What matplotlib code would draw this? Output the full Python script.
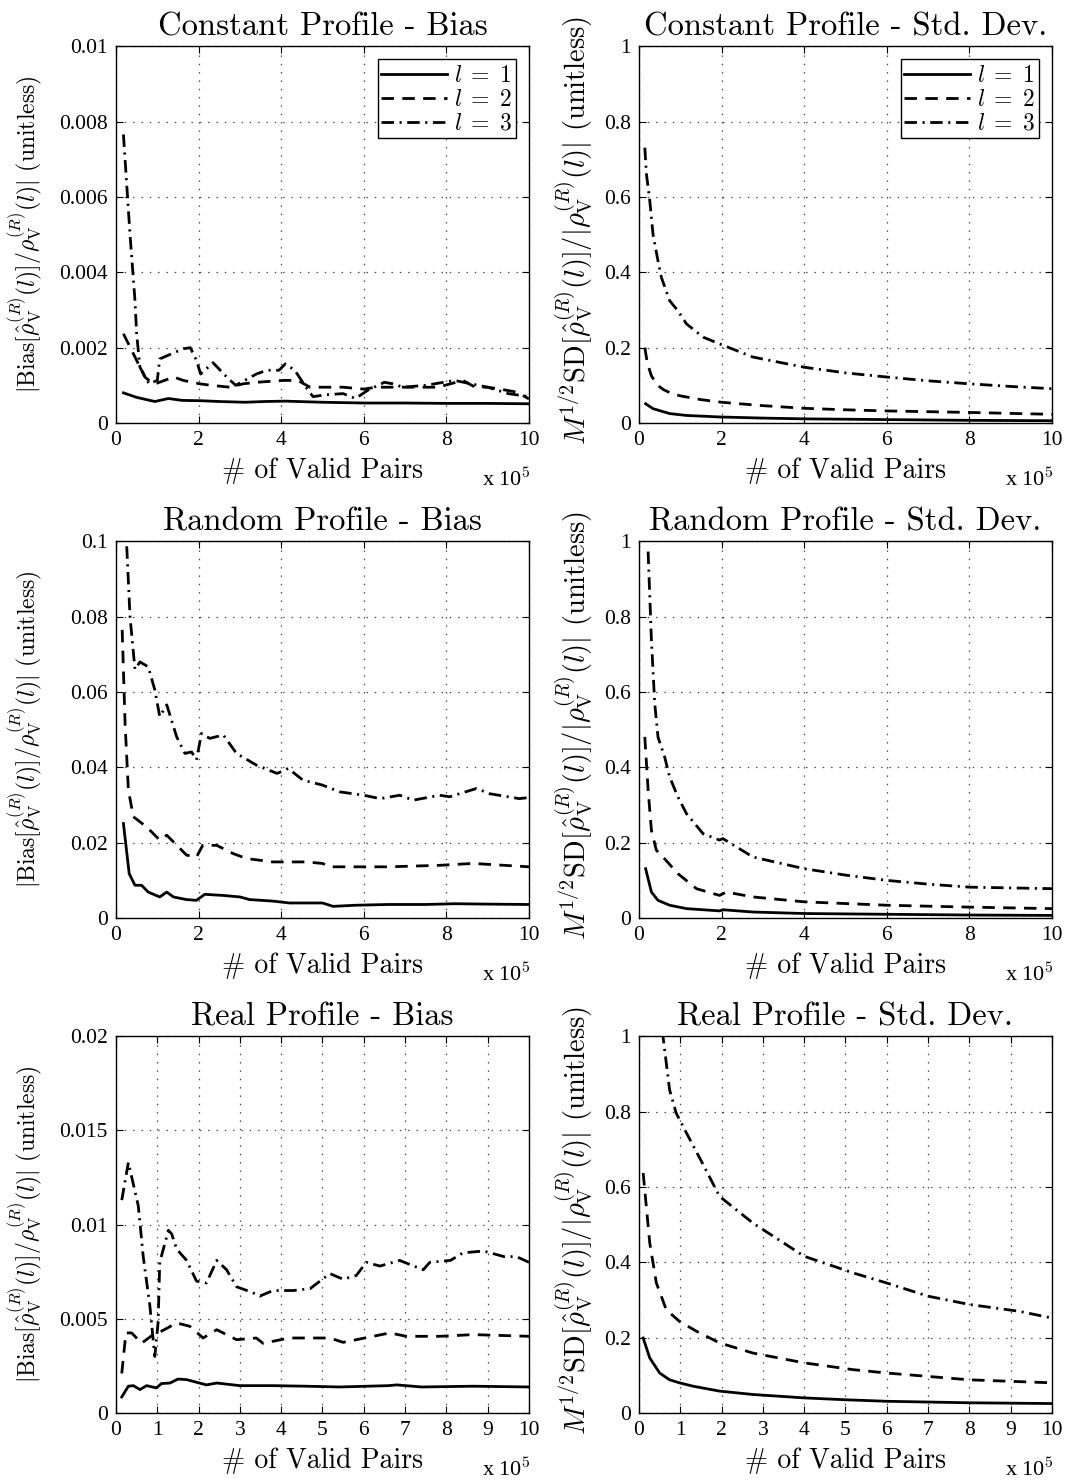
import matplotlib
matplotlib.use('Agg')
import matplotlib.pyplot as plt
from matplotlib.ticker import FixedLocator, FixedFormatter

plt.rcParams['mathtext.fontset'] = 'cm'
plt.rcParams['axes.unicode_minus'] = False
plt.rcParams['lines.scale_dashes'] = False

# ---- data (x in units of 1e5 valid pairs) ----
const_bias_l1 = [(0.18, 0.00080), (0.5, 0.00068), (0.94, 0.00057), (1.27, 0.00065), (1.6, 0.00060),
                 (2.08, 0.00059), (2.5, 0.00057), (3.13, 0.00055), (3.6, 0.00057), (4.1, 0.00058),
                 (5.0, 0.00055), (6.04, 0.00053), (7.0, 0.00053), (8.0, 0.00052), (9.0, 0.00052),
                 (10.0, 0.00051)]
const_bias_l2 = [(0.18, 0.00237), (0.42, 0.00184), (0.7, 0.00122), (0.9, 0.00104), (1.0, 0.00106),
                 (1.4, 0.00122), (1.63, 0.00113), (2.03, 0.00104), (2.3, 0.00100), (2.76, 0.00095),
                 (3.08, 0.00104), (3.4, 0.00108), (4.05, 0.00113), (4.4, 0.00113), (4.7, 0.00095),
                 (5.0, 0.00095), (5.5, 0.00095), (6.0, 0.00090), (6.3, 0.00095), (6.8, 0.00095),
                 (7.3, 0.00095), (7.8, 0.00095), (8.4, 0.00113), (8.7, 0.00095), (9.0, 0.00095),
                 (9.3, 0.00090), (9.7, 0.00082), (10.0, 0.00064)]
const_bias_l3 = [(0.18, 0.00766), (0.34, 0.0050), (0.46, 0.00325), (0.5, 0.00237), (0.58, 0.00148),
                 (0.8, 0.00104), (1.0, 0.00113), (1.06, 0.0017), (1.35, 0.00184), (1.63, 0.00197),
                 (1.8, 0.0020), (1.95, 0.00166), (2.05, 0.0013), (2.35, 0.0016), (2.7, 0.0012),
                 (2.9, 0.0010), (3.4, 0.0013), (3.65, 0.0014), (3.95, 0.0014), (4.1, 0.00157),
                 (4.33, 0.0014), (4.6, 0.00095), (4.77, 0.0007), (5.1, 0.00075), (5.5, 0.00078),
                 (5.8, 0.00065), (6.1, 0.00087), (6.5, 0.00108), (6.7, 0.00104), (6.95, 0.00095),
                 (7.5, 0.0010), (8.2, 0.00113), (9.0, 0.00095), (9.5, 0.00078), (10.0, 0.0007)]

const_sd_l1 = [(0.16, 0.051), (0.34, 0.038), (0.74, 0.025), (1.15, 0.020), (1.95, 0.016), (3.0, 0.013),
               (4.0, 0.011), (6.0, 0.009), (8.0, 0.007), (10.0, 0.006)]
const_sd_l2 = [(0.14, 0.20), (0.2, 0.16), (0.3, 0.125), (0.45, 0.10), (0.6, 0.088), (0.8, 0.078),
               (1.0, 0.072), (1.5, 0.062), (2.0, 0.055), (3.0, 0.046), (4.0, 0.039), (5.0, 0.035),
               (6.0, 0.032), (8.0, 0.028), (10.0, 0.023)]
const_sd_l3 = [(0.14, 0.731), (0.18, 0.66), (0.26, 0.59), (0.34, 0.50), (0.46, 0.43), (0.54, 0.387),
               (0.74, 0.325), (0.94, 0.298), (1.15, 0.263), (1.55, 0.228), (1.95, 0.21), (2.76, 0.175),
               (4.0, 0.148), (5.0, 0.133), (6.0, 0.122), (7.0, 0.112), (8.0, 0.104), (9.0, 0.097),
               (10.0, 0.091)]

rand_bias_l1 = [(0.18, 0.0251), (0.32, 0.0118), (0.46, 0.0087), (0.62, 0.0087), (0.78, 0.0069),
                (1.06, 0.0056), (1.23, 0.0069), (1.39, 0.0056), (1.71, 0.0049), (1.95, 0.0047),
                (2.15, 0.0063), (2.6, 0.0060), (3.0, 0.0056), (3.24, 0.0049), (3.8, 0.0045),
                (4.2, 0.0040), (5.0, 0.0040), (5.26, 0.0031), (5.8, 0.0034), (6.6, 0.0036),
                (7.5, 0.0036), (8.2, 0.0038), (9.0, 0.0037), (10.0, 0.0036)]
rand_bias_l2 = [(0.15, 0.0765), (0.22, 0.0517), (0.30, 0.034), (0.42, 0.0269), (0.74, 0.0242),
                (1.06, 0.0207), (1.23, 0.022), (1.71, 0.0167), (1.95, 0.0162), (2.1, 0.0193),
                (2.44, 0.0193), (2.84, 0.0171), (3.16, 0.0158), (3.8, 0.0149), (4.6, 0.0149),
                (5.0, 0.0145), (5.18, 0.0136), (5.8, 0.0136), (6.6, 0.0136), (7.84, 0.014),
                (8.65, 0.0145), (10.0, 0.0136)]
rand_bias_l3 = [(0.26, 0.0987), (0.34, 0.080), (0.46, 0.066), (0.58, 0.068), (0.78, 0.0667),
                (0.94, 0.0606), (1.06, 0.0535), (1.23, 0.0566), (1.47, 0.0481), (1.67, 0.0437),
                (1.83, 0.0441), (1.95, 0.042), (2.07, 0.049), (2.27, 0.0477), (2.6, 0.0486),
                (2.92, 0.0437), (3.4, 0.0406), (3.9, 0.0384), (4.17, 0.0397), (4.53, 0.0366),
                (5.0, 0.0353), (5.42, 0.0335), (6.0, 0.0326), (6.4, 0.0317), (6.87, 0.0326),
                (7.2, 0.0313), (7.84, 0.0326), (8.08, 0.0322), (8.73, 0.0344), (9.05, 0.033),
                (9.77, 0.0317), (10.0, 0.032)]

rand_sd_l1 = [(0.16, 0.131), (0.30, 0.069), (0.46, 0.047), (0.74, 0.034), (1.15, 0.025), (1.95, 0.019),
              (2.03, 0.022), (2.76, 0.016), (4.0, 0.012), (6.0, 0.010), (8.0, 0.008), (10.0, 0.007)]
rand_sd_l2 = [(0.14, 0.481), (0.22, 0.34), (0.30, 0.233), (0.42, 0.18), (0.58, 0.162), (0.94, 0.118),
              (1.39, 0.078), (1.95, 0.060), (2.11, 0.069), (2.76, 0.056), (4.0, 0.043), (6.0, 0.034),
              (8.0, 0.029), (10.0, 0.025)]
rand_sd_l3 = [(0.22, 0.973), (0.30, 0.738), (0.38, 0.57), (0.46, 0.48), (0.62, 0.428), (0.74, 0.375),
              (0.94, 0.322), (1.15, 0.277), (1.55, 0.224), (1.95, 0.207), (2.03, 0.211), (2.76, 0.162),
              (4.0, 0.131), (5.0, 0.114), (6.0, 0.100), (7.0, 0.090), (8.0, 0.082), (9.0, 0.080),
              (10.0, 0.078)]

real_bias_l1 = [(0.14, 0.00085), (0.30, 0.00142), (0.42, 0.00145), (0.58, 0.00124), (0.74, 0.00145),
                (0.98, 0.00133), (1.10, 0.00156), (1.31, 0.00159), (1.50, 0.00180), (1.71, 0.00177),
                (1.95, 0.00163), (2.19, 0.00149), (2.44, 0.00159), (3.0, 0.00145), (3.8, 0.00145),
                (4.6, 0.00142), (5.42, 0.00138), (6.6, 0.00145), (6.8, 0.00149), (7.4, 0.00138),
                (8.65, 0.00142), (10.0, 0.00138)]
real_bias_l2 = [(0.14, 0.0021), (0.24, 0.00425), (0.38, 0.00425), (0.62, 0.0037), (0.9, 0.00416),
                (1.1, 0.00434), (1.47, 0.00478), (1.79, 0.0046), (2.11, 0.00398), (2.44, 0.00442),
                (2.92, 0.00389), (3.4, 0.00398), (3.56, 0.0037), (4.2, 0.00398), (4.7, 0.00398),
                (5.18, 0.00398), (5.5, 0.00375), (6.23, 0.00407), (6.63, 0.00425), (7.03, 0.00407),
                (7.84, 0.00407), (8.65, 0.00416), (10.0, 0.00407)]
real_bias_l3 = [(0.14, 0.0113), (0.30, 0.0133), (0.54, 0.0110), (0.66, 0.0083), (0.82, 0.0057),
                (0.94, 0.0030), (1.02, 0.0048), (1.06, 0.0080), (1.27, 0.0097), (1.35, 0.0095),
                (1.47, 0.0087), (1.71, 0.0081), (1.95, 0.0070), (2.19, 0.0069), (2.44, 0.0081),
                (2.68, 0.0076), (2.92, 0.0067), (3.3, 0.0064), (3.48, 0.0062), (3.8, 0.0065),
                (4.29, 0.0065), (4.7, 0.0066), (5.18, 0.0074), (5.5, 0.0071), (5.82, 0.0073),
                (6.06, 0.0080), (6.39, 0.0078), (6.87, 0.0081), (7.44, 0.0076), (7.6, 0.0080),
                (8.1, 0.0081), (8.4, 0.0085), (8.9, 0.0086), (9.4, 0.0083), (9.7, 0.0083),
                (10.0, 0.0080)]

real_sd_l1 = [(0.10, 0.199), (0.26, 0.146), (0.50, 0.106), (0.74, 0.088), (0.98, 0.080), (1.31, 0.071),
              (1.95, 0.058), (2.76, 0.049), (4.0, 0.040), (5.0, 0.035), (6.0, 0.031), (8.0, 0.027),
              (10.0, 0.025)]
real_sd_l2 = [(0.10, 0.637), (0.26, 0.451), (0.42, 0.345), (0.66, 0.274), (0.98, 0.243), (1.39, 0.217),
              (1.95, 0.186), (2.76, 0.159), (4.0, 0.133), (5.18, 0.115), (6.0, 0.106), (8.0, 0.088),
              (10.0, 0.080)]
real_sd_l3 = [(0.45, 1.15), (0.58, 1.0), (0.74, 0.858), (0.90, 0.796), (1.15, 0.743), (1.55, 0.66),
              (1.95, 0.575), (2.76, 0.504), (4.0, 0.416), (5.18, 0.372), (6.0, 0.345), (7.0, 0.31),
              (8.0, 0.288), (9.2, 0.27), (10.0, 0.252)]

titles = ['Constant Profile - Bias', 'Constant Profile - Std. Dev.',
          'Random Profile - Bias', 'Random Profile - Std. Dev.',
          'Real Profile - Bias', 'Real Profile - Std. Dev.']
bias_yticks = [[0, 0.002, 0.004, 0.006, 0.008, 0.01],
               [0, 0.02, 0.04, 0.06, 0.08, 0.1],
               [0, 0.005, 0.01, 0.015, 0.02]]
sd_yticks = [0, 0.2, 0.4, 0.6, 0.8, 1]
xticks_coarse = [0, 2, 4, 6, 8, 10]
xticks_fine = [0, 1, 2, 3, 4, 5, 6, 7, 8, 9, 10]
legend_labels = [r'$l\;=\;1$', r'$l\;=\;2$', r'$l\;=\;3$']

bias_ylabel = (r'$|\mathrm{Bias}[\hat{\rho}_{\mathrm{V}}^{(R)}(l)]/\rho_{\mathrm{V}}^{(R)}(l)|$'
               ' (unitless)')
sd_ylabel = (r'$M^{1/2}\mathrm{SD}[\hat{\rho}_{\mathrm{V}}^{(R)}(l)]/|\rho_{\mathrm{V}}^{(R)}(l)|$'
             ' (unitless)')

panels = [
    [const_bias_l1, const_bias_l2, const_bias_l3],
    [const_sd_l1, const_sd_l2, const_sd_l3],
    [rand_bias_l1, rand_bias_l2, rand_bias_l3],
    [rand_sd_l1, rand_sd_l2, rand_sd_l3],
    [real_bias_l1, real_bias_l2, real_bias_l3],
    [real_sd_l1, real_sd_l2, real_sd_l3],
]

styles = [dict(linestyle='-'), dict(dashes=(9, 6)), dict(dashes=(9, 4, 1.5, 4))]

TICK_FONT = 'Liberation Serif'
CM_FONT = 'cmr10'

fig = plt.figure(figsize=(10.67, 14.8), dpi=100)
lefts = [0.1087, 0.5989]
bottoms = [0.7142, 0.3797, 0.0453]
w, h = 0.387, 0.2545

for i, curves in enumerate(panels):
    row, col = divmod(i, 2)
    ax = fig.add_axes([lefts[col], bottoms[row], w, h])
    for pts, st, lab in zip(curves, styles, legend_labels):
        xs = [p[0] for p in pts]
        ys = [p[1] for p in pts]
        ax.plot(xs, ys, color='black', lw=2.0, label=lab, **st)

    if col == 0:
        yt = bias_yticks[row]
    else:
        yt = sd_yticks
    xt = xticks_fine if row == 2 else xticks_coarse

    ax.set_xlim(0, 10)
    ax.set_ylim(yt[0], yt[-1])
    ax.xaxis.set_major_locator(FixedLocator(xt))
    ax.xaxis.set_major_formatter(FixedFormatter(['%g' % v for v in xt]))
    ax.yaxis.set_major_locator(FixedLocator(yt))
    ax.yaxis.set_major_formatter(FixedFormatter(['%g' % v for v in yt]))
    ax.tick_params(direction='in', length=5, width=0.8, top=True, right=True, pad=6)
    for lbl in ax.get_xticklabels() + ax.get_yticklabels():
        lbl.set_fontfamily(TICK_FONT)
        lbl.set_fontsize(15.5)
    ax.grid(True, color='0.25', linestyle=(0, (1, 5)), linewidth=0.9)
    for sp in ax.spines.values():
        sp.set_linewidth(1.0)

    ax.set_title(titles[i], family=CM_FONT, fontsize=23.5, pad=8)
    ax.set_xlabel('# of Valid Pairs', family=CM_FONT, fontsize=20, labelpad=5)
    if col == 0:
        ax.set_ylabel(bias_ylabel, family=CM_FONT, fontsize=17)
        ax.yaxis.set_label_coords(-0.172, 0.5)
    else:
        ax.set_ylabel(sd_ylabel, family=CM_FONT, fontsize=20.5)
        ax.yaxis.set_label_coords(-0.107, 0.51)
    ax.text(0.945, -0.148, r'x 10$^5$', transform=ax.transAxes, ha='center', va='center',
            family=TICK_FONT, fontsize=16)

    if row == 0:
        leg = ax.legend(loc='upper right', prop={'size': 17}, handlelength=2.8,
                        handletextpad=0.3, borderaxespad=0.55, labelspacing=0.0,
                        borderpad=0.15, fancybox=False, framealpha=1, edgecolor='black')
        leg.get_frame().set_linewidth(1.0)

fig.savefig('out.png', dpi=100)
